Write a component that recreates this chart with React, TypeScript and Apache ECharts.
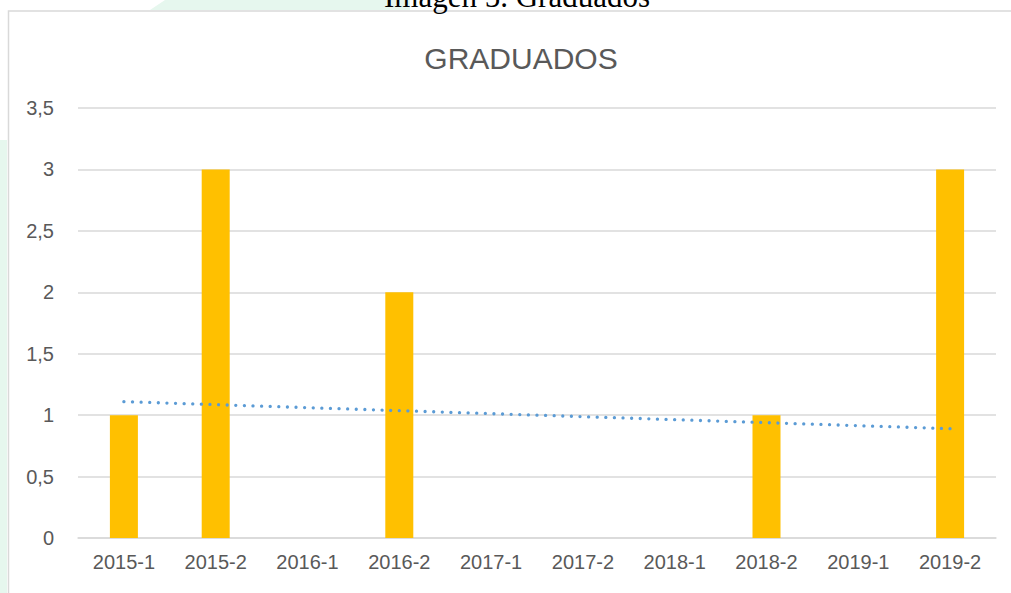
import React, { useEffect, useRef } from "react";
import * as echarts from "echarts";

const categories = ["2015-1", "2015-2", "2016-1", "2016-2", "2017-1", "2017-2", "2018-1", "2018-2", "2019-1", "2019-2"];
const graduados = [1, 3, 0, 2, 0, 0, 0, 1, 0, 3];
const trendValues = [1.11, null, null, null, null, null, null, null, null, 0.89];
const yTicks = { min: 0, max: 3.5, interval: 0.5 };
const chartTitle = "GRADUADOS";
const caption = "Imagen 5. Graduados";

export default function App() {
  const ref = useRef<HTMLDivElement>(null);
  useEffect(() => {
    if (!ref.current) return;
    const chart = echarts.init(ref.current, null, { renderer: "svg" });
    const font = "'Liberation Sans', Arial, sans-serif";
    chart.setOption({
      animation: false,
      backgroundColor: "#ffffff",
      title: {
        text: chartTitle,
        left: 516,
        top: 38,
        textAlign: "center",
        textStyle: { fontFamily: font, fontSize: 30, fontWeight: "normal", color: "#595959" },
      },
      graphic: [
        { type: "polygon", z: -10, shape: { points: [[165, 0], [410, 0], [410, 10], [150, 10]] }, style: { fill: "#e6f7ee" } },
        { type: "rect", z: -10, shape: { x: 0, y: 140, width: 7, height: 453 }, style: { fill: "#e6f7ee" } },
        { type: "rect", z: -5, shape: { x: 8.5, y: 11, width: 1020, height: 600 }, style: { fill: "#ffffff", stroke: "#d9d9d9", lineWidth: 1.5 } },
        {
          type: "text",
          x: 517,
          y: 12,
          style: {
            text: caption,
            fontFamily: "'Liberation Serif', 'Times New Roman', serif",
            fontSize: 31,
            fill: "#000000",
            align: "center",
            verticalAlign: "bottom",
          },
        },
      ],
      grid: { left: 78, right: 15, top: 108, bottom: 55 },
      xAxis: {
        type: "category",
        data: categories,
        axisLine: { show: true, lineStyle: { color: "#d9d9d9", width: 1.5 } },
        axisTick: { show: false },
        axisLabel: { color: "#595959", fontFamily: font, fontSize: 20, margin: 14 },
      },
      yAxis: {
        type: "value",
        min: yTicks.min,
        max: yTicks.max,
        interval: yTicks.interval,
        axisLine: { show: false },
        axisTick: { show: false },
        splitLine: { lineStyle: { color: "#d9d9d9", width: 1.5 } },
        axisLabel: {
          color: "#595959",
          fontFamily: font,
          fontSize: 20,
          margin: 24,
          formatter: (v: number) => String(v).replace(".", ","),
        },
      },
      series: [
        {
          type: "bar",
          data: graduados,
          barWidth: 28,
          itemStyle: { color: "#FFC000" },
        },
        {
          type: "line",
          data: trendValues,
          connectNulls: true,
          showSymbol: false,
          symbol: "none",
          lineStyle: { color: "#5B9BD5", width: 3.3, type: [0.01, 8.6], cap: "round" },
          z: 5,
        },
      ],
    });
    return () => chart.dispose();
  }, []);
  return (
    <div
      ref={ref}
      style={{ position: "absolute", left: 0, top: 0, width: 1011, height: 593 }}
    />
  );
}
